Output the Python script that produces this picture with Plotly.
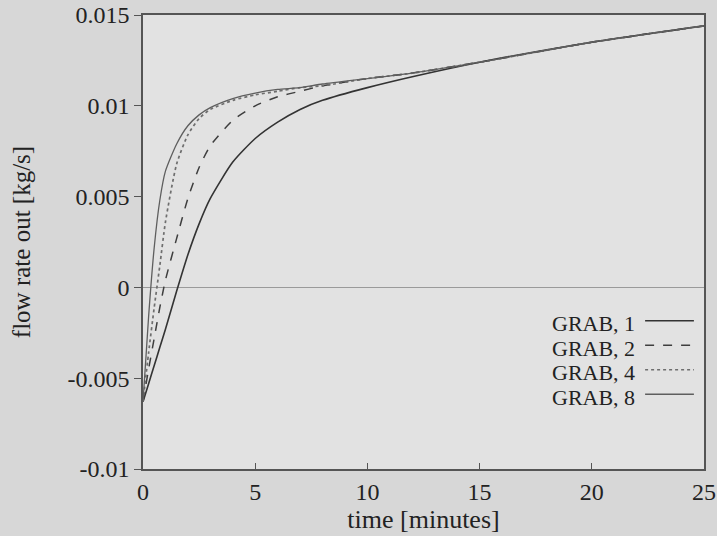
import plotly.graph_objects as go

# time in minutes
time_min = [0, 0.25, 0.5, 0.75, 1, 1.5, 2, 2.5, 3, 4, 5, 6, 7, 8, 10, 12, 15, 20, 25]

grab_1 = [-0.0063, -0.0053, -0.0043, -0.0033, -0.0023, -0.0002, 0.0018, 0.0035, 0.0049,
          0.0069, 0.0082, 0.0091, 0.0098, 0.0103, 0.0110, 0.0116, 0.0124, 0.0135, 0.0144]
grab_2 = [-0.0063, -0.0045, -0.0028, -0.0011, 0.0004, 0.0027, 0.0049, 0.0066, 0.0078,
          0.0092, 0.0100, 0.0105, 0.0108, 0.0111, 0.0115, 0.0118, 0.0124, 0.0135, 0.0144]
grab_4 = [-0.0063, -0.0036, -0.0011, 0.0012, 0.0036, 0.0068, 0.0084, 0.0093, 0.0098,
          0.0103, 0.0106, 0.0108, 0.0110, 0.0111, 0.0115, 0.0118, 0.0124, 0.0135, 0.0144]
grab_8 = [-0.0063, -0.0016, 0.0022, 0.0048, 0.0064, 0.0079, 0.0089, 0.0095, 0.0099,
          0.0104, 0.0107, 0.0109, 0.0110, 0.0112, 0.0115, 0.0118, 0.0124, 0.0135, 0.0144]

series_names = ["GRAB, 1", "GRAB, 2", "GRAB, 4", "GRAB, 8"]
series_values = [grab_1, grab_2, grab_4, grab_8]
styles = [
    dict(color="#333333", width=1.6, dash="solid"),
    dict(color="#3e3e3e", width=1.5, dash="dash"),
    dict(color="#6e6e6e", width=1.7, dash="dot"),
    dict(color="#5e5e5e", width=1.3, dash="solid"),
]

x_ticks = [0, 5, 10, 15, 20, 25]
y_ticks = [-0.01, -0.005, 0, 0.005, 0.01, 0.015]
y_tick_labels = ["-0.01", "-0.005", "0", "0.005", "0.01", "0.015"]

FONT = "Liberation Serif"

fig = go.Figure()
for name, vals, st in zip(series_names, series_values, styles):
    fig.add_trace(go.Scatter(x=time_min, y=vals, mode="lines", name=name,
                             line=dict(shape="spline", smoothing=0.6, **st)))

# manual legend: right-aligned text, sample line on the right
legend_y = [0.3205, 0.2665, 0.2125, 0.1585]
for name, st, yy in zip(series_names, styles, legend_y):
    fig.add_annotation(x=0.881, y=yy, xref="paper", yref="paper", text=name,
                       showarrow=False, xanchor="right", yanchor="middle",
                       font=dict(family=FONT, size=22, color="#222222"))
    fig.add_shape(type="line", xref="paper", yref="paper",
                  x0=0.895, x1=0.982, y0=yy + 0.006, y1=yy + 0.006,
                  line=dict(color=st["color"], width=1.4, dash=st["dash"]))

fig.update_layout(
    width=717, height=536,
    margin=dict(l=143, r=13, t=15, b=67),
    paper_bgcolor="#d7d7d7",
    plot_bgcolor="#e2e2e2",
    showlegend=False,
    font=dict(family=FONT, size=24, color="#222222"),
)
fig.update_xaxes(
    range=[0, 25], tickvals=x_ticks, ticks="inside", ticklen=6, tickcolor="#555",
    showline=True, linecolor="#555555", linewidth=1.5, mirror=True,
    showgrid=False, zeroline=False, automargin=False,
    title=dict(text="time [minutes]", standoff=4, font=dict(family=FONT, size=26)),
    tickfont=dict(family=FONT, size=24),
)
fig.update_yaxes(
    range=[-0.01, 0.015], tickvals=y_ticks, ticktext=y_tick_labels,
    ticks="outside", ticklen=7, tickcolor="#555",
    showline=True, linecolor="#555555", linewidth=1.5, mirror=True,
    showgrid=False, zeroline=True, zerolinecolor="#9a9a9a", zerolinewidth=1,
    automargin=False,
    title=dict(text="flow rate out [kg/s]", standoff=30, font=dict(family=FONT, size=25)),
    tickfont=dict(family=FONT, size=24),
)

fig.write_html("out.html")
